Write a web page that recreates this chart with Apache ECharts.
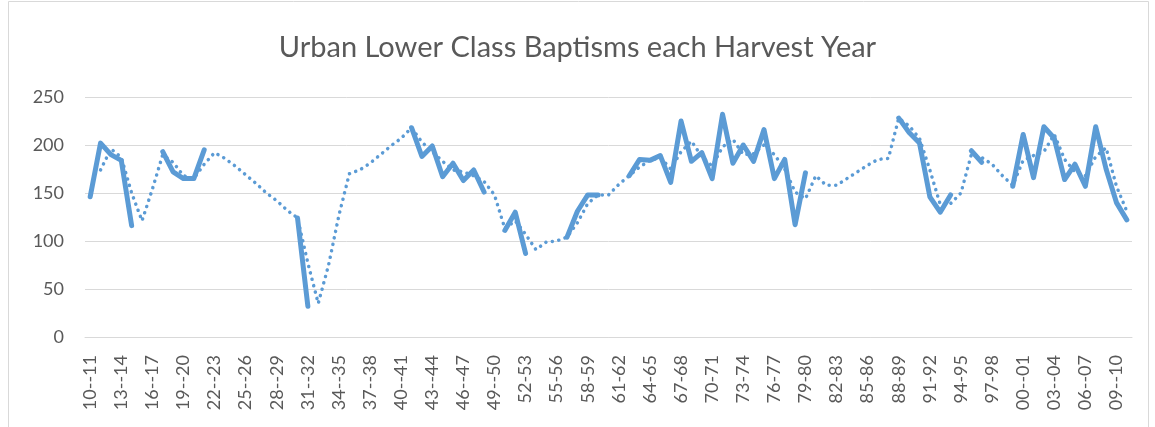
<!DOCTYPE html>
<html>
<head>
<meta charset="utf-8">
<script src="https://cdn.jsdelivr.net/npm/echarts@6/dist/echarts.min.js"></script>
<style>
  html, body { margin: 0; padding: 0; background: #fff; }
  #chart { width: 1155px; height: 427px; }
</style>
</head>
<body>
<div id="chart"></div>
<script>
// harvest years, 1710-11 .. 1810-11
var categories = [
  '10--11','11--12','12--13','13--14','14--15','15--16','16--17','17--18','18--19','19--20',
  '20--21','21--22','22--23','23--24','24--25','25--26','26--27','27--28','28--29','29--30',
  '30--31','31--32','32--33','33--34','34--35','35--36','36--37','37--38','38--39','39--40',
  '40--41','41--42','42--43','43--44','44--45','45--46','46--47','47--48','48--49','49--50',
  '50--51','51--52','52-53','53-54','54-55','55-56','56-57','57-58','58-59','59-60',
  '60-61','61-62','62-63','63-64','64-65','65-66','66-67','67-68','68-69','69-70',
  '70-71','71-72','72-73','73-74','74-75','75-76','76-77','77-78','78-79','79-80',
  '80-81','81-82','82-83','83-84','84-85','85-86','86-87','87-88','88-89','89-90',
  '90-91','91-92','92-93','93-94','94-95','95-96','96-97','97-98','98-99','99-00',
  '00--01','01--02','02--03','03--04','04--05','05--06','06--07','07--08','08--09','09--10',
  '10--11'
];

// baptisms (blank years left null)
var baptisms = [
  146, 202, 190, 184, 116, null, null, 193, 172, 165,
  165, 195, null, null, null, null, null, null, null, null,
  124, 32, null, null, null, null, null, null, null, null,
  null, 218, 188, 199, 167, 181, 163, 174, 151, null,
  111, 130, 87, null, null, null, 104, 131, 148, 148,
  null, null, 168, 185, 184, 189, 161, 225, 183, 192,
  165, 232, 181, 200, 183, 216, 165, 185, 117, 171,
  null, null, null, null, null, null, null, null, 228, 213,
  202, 146, 130, 148, null, 194, 182, null, null, 157,
  211, 166, 219, 207, 164, 180, 157, 219, 175, 140,
  122
];

// 2-year moving average (dotted)
var movingAvg = [
  null, 174, 196, 187, 150, 121, 154, 190, 182, 168,
  165, 180, 192, 186, 178, 169, 160, 150, 142, 132,
  124, 77, 35, 75, 127, 170, 174, 181, 190, 199,
  207, 218, 203, 193, 183, 174, 172, 168, 162, 148,
  113, 121, 107, 91, 99, 100, 104, 119, 139, 148,
  148, 159, 168, 177, 184, 187, 175, 193, 204, 188,
  178, 198, 206, 190, 191, 200, 190, 175, 151, 144,
  168, 158, 158, 165, 172, 179, 185, 186, 228, 220,
  207, 174, 138, 139, 150, 190, 187, 180, 168, 158,
  184, 189, 193, 211, 185, 172, 168, 188, 197, 157,
  131
];

var yTicks = [0, 50, 100, 150, 200, 250];

var chart = echarts.init(document.getElementById('chart'), null, { renderer: 'canvas' });

var FONT = 'Lato, "Open Sans", sans-serif';
var BLUE = '#5b9bd5';

var option = {
  animation: false,
  backgroundColor: '#fff',
  title: {
    text: 'Urban Lower Class Baptisms each Harvest Year',
    left: 'center',
    top: 28,
    textStyle: { fontFamily: FONT, fontSize: 29, fontWeight: 'normal', color: '#595959' }
  },
  graphic: [{
    type: 'rect',
    shape: { x: 8.5, y: 1.5, width: 1140, height: 440 },
    style: { fill: 'none', stroke: '#d9d9d9', lineWidth: 1 },
    silent: true
  }],
  grid: { left: 85, right: 23, top: 97, bottom: 90 },
  xAxis: {
    type: 'category',
    data: categories,
    boundaryGap: true,
    axisLine: { show: true, lineStyle: { color: '#d9d9d9', width: 1 } },
    axisTick: { show: false },
    axisLabel: {
      interval: 2,
      rotate: 90,
      margin: 18,
      fontFamily: FONT,
      fontSize: 18,
      color: '#595959'
    },
    splitLine: { show: false }
  },
  yAxis: {
    type: 'value',
    min: yTicks[0],
    max: yTicks[yTicks.length - 1],
    interval: 50,
    axisLine: { show: false },
    axisTick: { show: false },
    axisLabel: {
      margin: 21,
      fontFamily: FONT,
      fontSize: 18,
      color: '#595959'
    },
    splitLine: { show: true, lineStyle: { color: '#d9d9d9', width: 1 } }
  },
  series: [
    {
      name: 'Baptisms',
      type: 'line',
      data: baptisms,
      showSymbol: false,
      connectNulls: false,
      lineStyle: { color: BLUE, width: 5, cap: 'round', join: 'round' },
      itemStyle: { color: BLUE },
      z: 3
    },
    {
      name: '2 per. Mov. Avg.',
      type: 'line',
      data: movingAvg,
      showSymbol: false,
      connectNulls: true,
      lineStyle: { color: BLUE, width: 3.5, type: [0.1, 6.5], cap: 'round' },
      itemStyle: { color: BLUE },
      z: 2
    }
  ]
};

chart.setOption(option);
</script>
</body>
</html>
